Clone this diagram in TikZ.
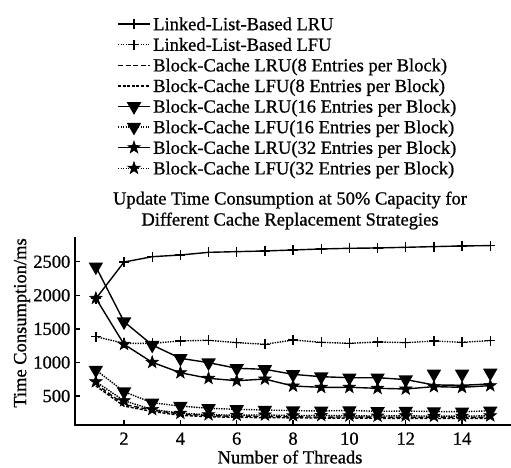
\documentclass[tikz,border=0pt]{standalone}
\usepackage{fontspec}
\setmainfont{Liberation Serif}[FakeBold=0.8]
\usetikzlibrary{plotmarks}

% filled five-pointed star mark
\pgfdeclareplotmark{fstar}{%
  \pgfpathmoveto{\pgfpointpolar{90}{\pgfplotmarksize}}%
  \pgfpathlineto{\pgfpointpolar{126}{0.4*\pgfplotmarksize}}%
  \pgfpathlineto{\pgfpointpolar{162}{\pgfplotmarksize}}%
  \pgfpathlineto{\pgfpointpolar{198}{0.4*\pgfplotmarksize}}%
  \pgfpathlineto{\pgfpointpolar{234}{\pgfplotmarksize}}%
  \pgfpathlineto{\pgfpointpolar{270}{0.4*\pgfplotmarksize}}%
  \pgfpathlineto{\pgfpointpolar{306}{\pgfplotmarksize}}%
  \pgfpathlineto{\pgfpointpolar{342}{0.4*\pgfplotmarksize}}%
  \pgfpathlineto{\pgfpointpolar{18}{\pgfplotmarksize}}%
  \pgfpathlineto{\pgfpointpolar{54}{0.4*\pgfplotmarksize}}%
  \pgfpathclose
  \pgfusepathqfillstroke}

\tikzset{
  series/.style={line width=1.4pt, black},
  solidline/.style={solid},
  dotline/.style={dash pattern=on 1.4pt off 1.1pt},
  dashline/.style={dash pattern=on 5pt off 2.5pt},
  finedash/.style={dash pattern=on 3pt off 1.6pt},
  pmark/.style={mark=+, mark size=5pt, mark options={solid, line width=1.4pt}},
  tmark/.style={mark=triangle*, mark size=7pt, mark options={solid, rotate=180}},
  smark/.style={mark=fstar, mark size=6.5pt, mark options={solid, line width=0.6pt}},
  s1/.style={solidline, pmark},
  s2/.style={dotline, pmark},
  s3/.style={dashline},
  s4/.style={finedash},
  s5/.style={solidline, tmark},
  s6/.style={dotline, tmark},
  s7/.style={solidline, smark},
  s8/.style={dotline, smark},
  axisline/.style={line width=2pt, black},
  ticklab/.style={inner sep=0pt},
}

\begin{document}
\begin{tikzpicture}[x=1pt, y=-1pt, font=\fontsize{18.5}{21}\selectfont]
\useasboundingbox (0,0) rectangle (511,467);

% legend
\foreach \i/\txt in {1/Linked-List-Based LRU,
                     2/Linked-List-Based LFU,
                     3/Block-Cache LRU(8 Entries per Block),
                     4/Block-Cache LFU(8 Entries per Block),
                     5/Block-Cache LRU(16 Entries per Block),
                     6/Block-Cache LFU(16 Entries per Block),
                     7/Block-Cache LRU(32 Entries per Block),
                     8/Block-Cache LFU(32 Entries per Block)} {
  \pgfmathsetmacro\yy{24+20.6*(\i-1)}
  \draw[series, s\i, mark indices={2}] plot coordinates {(118,\yy) (134,\yy) (150,\yy)};
  \node[anchor=base west, inner sep=0pt] (leg\i) at (153,\yy+6.2) {\txt};
}

% title
\node[align=center, inner sep=0pt] (title) at (290,210.5)
  {Update Time Consumption at 50\% Capacity for\\Different Cache Replacement Strategies};

% axes
\draw[axisline] (75,237) -- (75,425) -- (511,425);

% y ticks and labels
\foreach \v in {500,1000,1500,2000,2500} {
  \pgfmathsetmacro\py{429.6-0.06715*\v}
  \draw[line width=1.4pt] (75,\py) -- (80,\py);
  \node[ticklab, anchor=east] (yt\v) at (70.5,\py) {\v};
}
% x ticks and labels
\foreach \t in {2,4,6,8,10,12,14} {
  \pgfmathsetmacro\px{67.7+28.17*\t}
  \draw[line width=1.4pt] (\px,425) -- (\px,419.5);
  \node[ticklab, anchor=base] (xt\t) at (\px,444.7) {\t};
}

% axis labels
\node[rotate=90, inner sep=0pt] (ylab) at (22,323) {Time Consumption/ms};
\node[inner sep=0pt] (xlab) at (290,457) {Number of Threads};

% data
\begin{scope}[shift={(67.7,429.6)}, x=28.17pt, y=0.06715pt]
  \draw[series, s4] plot coordinates {(1,650) (2,350) (3,270) (4,212) (5,192) (6,182) (7,178) (8,175) (9,172) (10,172) (11,168) (12,168) (13,166) (14,165) (15,168)};
  \draw[series, s3] plot coordinates {(1,680) (2,375) (3,290) (4,232) (5,208) (6,198) (7,195) (8,190) (9,186) (10,188) (11,184) (12,182) (13,184) (14,180) (15,184)};
  \draw[series, s8] plot coordinates {(1,713) (2,430) (3,300) (4,245) (5,222) (6,215) (7,218) (8,208) (9,212) (10,206) (11,202) (12,206) (13,200) (14,200) (15,206)};
  \draw[series, s6] plot coordinates {(1,888) (2,565) (3,400) (4,351) (5,317) (6,302) (7,292) (8,282) (9,278) (10,285) (11,272) (12,276) (13,270) (14,266) (15,280)};
  \draw[series, s7] plot coordinates {(1,1955) (2,1270) (3,1002) (4,847) (5,764) (6,728) (7,753) (8,649) (9,630) (10,630) (11,615) (12,605) (13,640) (14,630) (15,655)};
  \draw[series, s5, mark indices={1,...,12}] plot coordinates {(1,2425) (2,1607) (3,1260) (4,1062) (5,997) (6,913) (7,898) (8,823) (9,788) (10,773) (11,773) (12,745) (13,665) (14,660) (15,680)};
  \path[series, s5] plot[only marks] coordinates {(13,830) (14,830) (15,845)};
  \draw[series, s2] plot coordinates {(1,1384) (2,1285) (3,1285) (4,1320) (5,1330) (6,1295) (7,1270) (8,1335) (9,1300) (10,1285) (11,1305) (12,1295) (13,1320) (14,1300) (15,1325)};
  \draw[series, s1] plot coordinates {(1,1950) (2,2495) (3,2575) (4,2600) (5,2640) (6,2650) (7,2660) (8,2675) (9,2690) (10,2700) (11,2705) (12,2715) (13,2725) (14,2735) (15,2740)};
\end{scope}
\end{tikzpicture}
\end{document}
